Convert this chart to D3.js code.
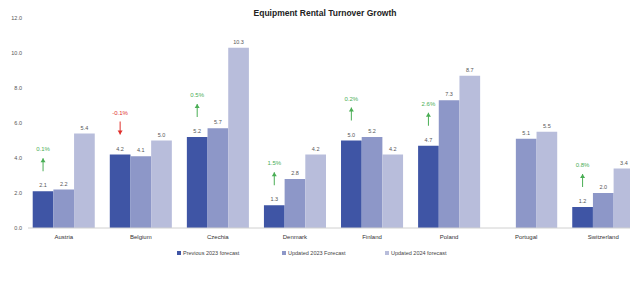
<!DOCTYPE html>
<head>
<meta charset="utf-8">
<title>Equipment Rental Turnover Growth</title>
<style>
html, body { margin:0; padding:0; overflow:hidden; background-color:#ffffff; }
svg { display:block; font-family:"Liberation Sans", Arial, sans-serif; }
</style>
</head>
<body>
<svg id="stage" width="630" height="293"></svg>
<script src="https://d3js.org/d3.v7.min.js"></script>
<script>
// values
var categories = ["Austria","Belgium","Czechia","Denmark","Finland","Poland","Portugal","Switzerland"];
var prev2023 = [2.1, 4.2, 5.2, 1.3, 5.0, 4.7, null, 1.2];
var upd2023  = [2.2, 4.1, 5.7, 2.8, 5.2, 7.3, 5.1, 2.0];
var upd2024  = [5.4, 5.0, 10.3, 4.2, 4.2, 8.7, 5.5, 3.4];
var changes  = [0.1, -0.1, 0.5, 1.5, 0.2, 2.6, null, 0.8];
var seriesNames = ["Previous 2023 forecast", "Updated 2023 Forecast", "Updated 2024 forecast"];
var yTicks = [0, 2, 4, 6, 8, 10, 12];

var colors = ["#3f55a5", "#8d97c8", "#b8bddb"];

var svg = d3.select("#stage");

var x = d3.scaleBand()
    .domain(categories)
    .range([25, 642])
    .paddingInner(0.195)
    .paddingOuter(0.1);

var x1 = d3.scaleBand()
    .domain([0, 1, 2])
    .range([0, x.bandwidth()]);

var y = d3.scaleLinear()
    .domain([0, 12])
    .range([228, 18]);

// title
svg.append("text")
    .attr("x", 325).attr("y", 16)
    .attr("text-anchor", "middle")
    .attr("font-size", 8.5).attr("font-weight", "bold")
    .attr("fill", "#222")
    .text("Equipment Rental Turnover Growth");

// y axis labels
svg.append("g").selectAll("text")
  .data(yTicks)
  .enter().append("text")
    .attr("x", 22)
    .attr("y", function(d) { return y(d) + 2; })
    .attr("text-anchor", "end")
    .attr("font-size", 5.5)
    .attr("fill", "#555")
    .text(function(d) { return d.toFixed(1); });

// bars
var table = [prev2023, upd2023, upd2024];
var groups = svg.append("g").selectAll("g")
  .data(categories)
  .enter().append("g")
    .attr("transform", function(d) { return "translate(" + x(d) + ",0)"; });

groups.each(function(cat, ci) {
  var g = d3.select(this);
  table.forEach(function(vals, si) {
    var v = vals[ci];
    if (v == null) return;
    g.append("rect")
      .attr("x", x1(si))
      .attr("y", y(v))
      .attr("width", x1.bandwidth())
      .attr("height", y(0) - y(v))
      .attr("fill", colors[si]);
    g.append("text")
      .attr("x", x1(si) + x1.bandwidth() / 2)
      .attr("y", y(v) - 4)
      .attr("text-anchor", "middle")
      .attr("font-size", 5.5)
      .attr("fill", "#555")
      .text(v.toFixed(1));
  });

  var c = changes[ci];
  if (c == null) return;
  var col = c < 0 ? "#e0302c" : "#4aae55";
  var cx = x1(0) + x1.bandwidth() / 2;
  var top = y(prev2023[ci]);
  g.append("text")
    .attr("x", cx)
    .attr("y", top - 40)
    .attr("text-anchor", "middle")
    .attr("font-size", 6)
    .attr("fill", col)
    .text(c.toFixed(1) + "%");
  // small arrow between the % and the bar label
  var y0 = top - 20, y1 = top - 33;
  if (c < 0) { var t = y0; y0 = y1; y1 = t; }
  g.append("line")
    .attr("x1", cx).attr("x2", cx)
    .attr("y1", y0).attr("y2", y1)
    .attr("stroke", col).attr("stroke-width", 1);
  var dir = c < 0 ? 1 : -1;
  g.append("path")
    .attr("d", d3.line()([[cx - 2.5, y1 - dir * 4], [cx + 2.5, y1 - dir * 4], [cx, y1]]) + "Z")
    .attr("fill", col);
});

// baseline
svg.append("line")
    .attr("x1", 28).attr("x2", 630)
    .attr("y1", y(0)).attr("y2", y(0))
    .attr("stroke", "#d0d0d0").attr("stroke-width", 1);

// category labels
svg.append("g").selectAll("text")
  .data(categories)
  .enter().append("text")
    .attr("x", function(d) { return x(d) + x.bandwidth() / 2; })
    .attr("y", 239)
    .attr("text-anchor", "middle")
    .attr("font-size", 6)
    .attr("fill", "#333")
    .text(function(d) { return d; });

// legend
var legendX = [177, 282, 385];
var legend = svg.append("g").selectAll("g")
  .data(seriesNames)
  .enter().append("g")
    .attr("transform", function(d, i) { return "translate(" + legendX[i] + ",255)"; });
legend.append("rect")
  .attr("x", 0).attr("y", -4)
  .attr("width", 4).attr("height", 4)
  .attr("fill", function(d, i) { return colors[i]; });
legend.append("text")
  .attr("x", 6).attr("y", 0)
  .attr("font-size", 5.5)
  .attr("fill", "#444")
  .text(function(d) { return d; });
</script>
</body>
